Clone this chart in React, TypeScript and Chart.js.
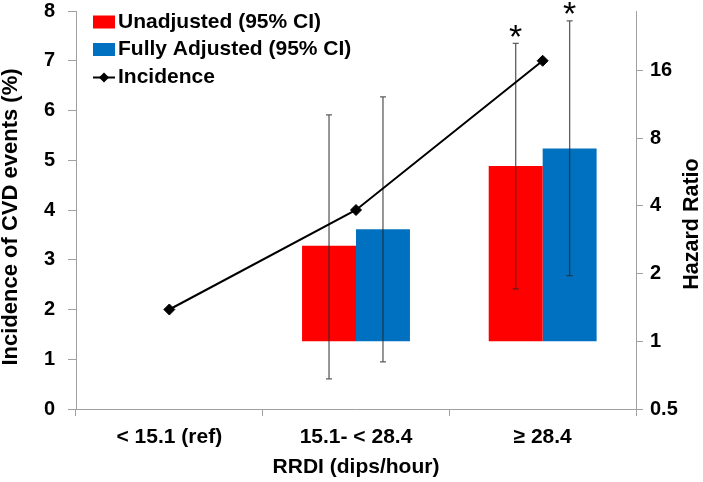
import React, { useEffect, useRef } from "react";
import { Chart, registerables } from "chart.js";

Chart.register(...registerables);

// ---- data ----
const categories = ["< 15.1 (ref)", "15.1- < 28.4", "≥ 28.4"];
const incidence = [2.0, 4.0, 7.0];
const hrUnadjusted = [null, 2.66, 6.02];
const hrUnadjLow = [null, 0.68, 1.71];
const hrUnadjHigh = [null, 10.15, 21.1];
const hrAdjusted = [null, 3.15, 7.2];
const hrAdjLow = [null, 0.81, 1.96];
const hrAdjHigh = [null, 12.2, 26.6];
const unadjSig = ["", "", "*"];
const adjSig = ["", "", "*"];
const hrReference = 1;
const leftTicks = [0, 1, 2, 3, 4, 5, 6, 7, 8];
const rightTicks = [0.5, 1, 2, 4, 8, 16];
const seriesLabels = ["Unadjusted (95% CI)", "Fully Adjusted (95% CI)", "Incidence"];
const leftTitle = "Incidence of CVD events (%)";
const rightTitle = "Hazard Ratio";
const xTitle = "RRDI (dips/hour)";

const FONT = "'Liberation Sans', Arial, sans-serif";
const AXIS_COLOR = "#A0A0A0";
const RED = "#FF0000";
const BLUE = "#0070C0";

const errorBarPlugin = {
  id: "errorBars",
  afterDatasetDraw(chart: any, args: any) {
    const ds = chart.data.datasets[args.index];
    if (!ds.errLow) return;
    const ctx = chart.ctx;
    const y1 = chart.scales.y1;
    ctx.save();
    args.meta.data.forEach((el: any, j: number) => {
      const lo = ds.errLow[j];
      const hi = ds.errHigh[j];
      if (lo == null || hi == null) return;
      const x = el.x;
      const yT = y1.getPixelForValue(hi);
      const yB = y1.getPixelForValue(lo);
      ctx.strokeStyle = "rgba(40,40,40,0.75)";
      ctx.lineWidth = 1.3;
      ctx.beginPath();
      ctx.moveTo(x, yT);
      ctx.lineTo(x, yB);
      ctx.moveTo(x - 3, yT);
      ctx.lineTo(x + 3, yT);
      ctx.moveTo(x - 3, yB);
      ctx.lineTo(x + 3, yB);
      ctx.stroke();
      const sig = ds.sig ? ds.sig[j] : "";
      if (sig) {
        ctx.fillStyle = "#000";
        ctx.font = `34px ${FONT}`;
        ctx.textAlign = "center";
        ctx.textBaseline = "alphabetic";
        ctx.fillText(sig, x, yT - 15 + 19.7);
      }
    });
    ctx.restore();
  },
};

const customTextPlugin = {
  id: "customText",
  afterDraw(chart: any) {
    const ctx = chart.ctx;
    // left axis title
    ctx.save();
    ctx.translate(11, 217);
    ctx.rotate(-Math.PI / 2);
    ctx.fillStyle = "#000";
    ctx.font = `bold 22px ${FONT}`;
    ctx.textAlign = "center";
    ctx.textBaseline = "middle";
    ctx.fillText(leftTitle, 0, 0);
    ctx.restore();

    // right axis title, reading bottom to top
    ctx.save();
    ctx.translate(692, 224);
    ctx.rotate(-Math.PI / 2);
    ctx.fillStyle = "#000";
    ctx.font = `bold 21.5px ${FONT}`;
    ctx.textAlign = "center";
    ctx.textBaseline = "middle";
    ctx.fillText(rightTitle, 0, 0);
    ctx.restore();

    // legend
    ctx.save();
    const rows = [21.5, 49, 76.5];
    const ds = chart.data.datasets;
    const boxX = 93;
    const boxW = 22;
    ds.forEach((d: any, i: number) => {
      const cy = rows[i];
      if (d.type === "line") {
        ctx.strokeStyle = "#000";
        ctx.lineWidth = 2;
        ctx.beginPath();
        ctx.moveTo(boxX, cy + 1);
        ctx.lineTo(boxX + boxW, cy + 1);
        ctx.stroke();
        ctx.fillStyle = "#000";
        ctx.beginPath();
        const cx = boxX + boxW / 2;
        ctx.moveTo(cx - 5, cy + 1);
        ctx.lineTo(cx, cy - 4);
        ctx.lineTo(cx + 5, cy + 1);
        ctx.lineTo(cx, cy + 6);
        ctx.closePath();
        ctx.fill();
      } else {
        ctx.fillStyle = d.backgroundColor;
        ctx.fillRect(boxX, cy - 6, boxW, 13);
      }
      ctx.fillStyle = "#000";
      ctx.font = `bold 21px ${FONT}`;
      ctx.textAlign = "left";
      ctx.textBaseline = "middle";
      ctx.fillText(d.label, 118, cy + 0.5);
    });
    ctx.restore();
  },
};

export default function App() {
  const ref = useRef<HTMLCanvasElement>(null);

  useEffect(() => {
    if (!ref.current) return;
    const chart = new Chart(ref.current, {
      type: "bar",
      data: {
        labels: categories,
        datasets: [
          {
            type: "bar",
            label: seriesLabels[0],
            data: hrUnadjusted.map((v) => (v == null ? null : [hrReference, v])) as any,
            backgroundColor: RED,
            yAxisID: "y1",
            order: 1,
            categoryPercentage: 0.578,
            barPercentage: 1,
            errLow: hrUnadjLow,
            errHigh: hrUnadjHigh,
            sig: unadjSig,
          } as any,
          {
            type: "bar",
            label: seriesLabels[1],
            data: hrAdjusted.map((v) => (v == null ? null : [hrReference, v])) as any,
            backgroundColor: BLUE,
            yAxisID: "y1",
            order: 1,
            categoryPercentage: 0.578,
            barPercentage: 1,
            errLow: hrAdjLow,
            errHigh: hrAdjHigh,
            sig: adjSig,
          } as any,
          {
            type: "line",
            label: seriesLabels[2],
            data: incidence,
            borderColor: "#000",
            backgroundColor: "#000",
            borderWidth: 2,
            pointStyle: "rectRot",
            pointRadius: 5.5,
            pointBackgroundColor: "#000",
            pointBorderColor: "#000",
            pointBorderWidth: 1,
            tension: 0,
            yAxisID: "y",
            order: 0,
          } as any,
        ],
      },
      options: {
        responsive: false,
        animation: false,
        events: [],
        layout: { padding: { top: 11, left: 0, right: 0, bottom: 0 } },
        plugins: {
          legend: { display: false },
          tooltip: { enabled: false },
        },
        scales: {
          x: {
            type: "category",
            offset: true,
            grid: {
              display: true,
              drawOnChartArea: false,
              offset: true,
              tickLength: 7,
              color: AXIS_COLOR,
            },
            border: { display: true, color: AXIS_COLOR },
            ticks: {
              color: "#000",
              padding: 9,
              maxRotation: 0,
              font: { family: FONT, size: 21, weight: "bold" },
            },
            title: {
              display: true,
              text: xTitle,
              color: "#000",
              font: { family: FONT, size: 21, weight: "bold", lineHeight: 1.2 },
              padding: { top: 0, bottom: 2 },
            },
            afterFit: (s: any) => {
              s.height = 73;
              s.paddingLeft = 0;
              s.paddingRight = 0;
            },
          },
          y: {
            type: "linear",
            position: "left",
            min: 0,
            max: 8,
            grid: { drawOnChartArea: false, tickLength: 8, color: AXIS_COLOR },
            border: { display: true, color: AXIS_COLOR },
            afterBuildTicks: (s: any) => {
              s.ticks = leftTicks.map((v) => ({ value: v }));
            },
            ticks: {
              color: "#000",
              padding: 13,
              font: { family: FONT, size: 20, weight: "bold", lineHeight: 1 },
              callback: (v: any) => String(v),
            },
            afterFit: (s: any) => {
              s.width = 76;
              s.paddingTop = 0;
              s.paddingBottom = 0;
            },
          },
          y1: {
            type: "logarithmic",
            position: "right",
            min: 0.5,
            max: 29.4,
            grid: { drawOnChartArea: false, tickLength: 7, color: AXIS_COLOR },
            border: { display: true, color: AXIS_COLOR },
            afterBuildTicks: (s: any) => {
              s.ticks = rightTicks.map((v) => ({ value: v }));
            },
            ticks: {
              color: "#000",
              padding: 7,
              font: { family: FONT, size: 20, weight: "bold", lineHeight: 1 },
              callback: (v: any) => String(v),
            },
            afterFit: (s: any) => {
              s.width = 67;
              s.paddingTop = 0;
              s.paddingBottom = 0;
            },
          },
        },
      } as any,
      plugins: [errorBarPlugin, customTextPlugin],
    });
    return () => chart.destroy();
  }, []);

  return (
    <div style={{ position: "fixed", left: 0, top: 0, width: 703, height: 482, background: "#fff" }}>
      <canvas ref={ref} width={703} height={482} style={{ display: "block", width: 703, height: 482 }} />
    </div>
  );
}
